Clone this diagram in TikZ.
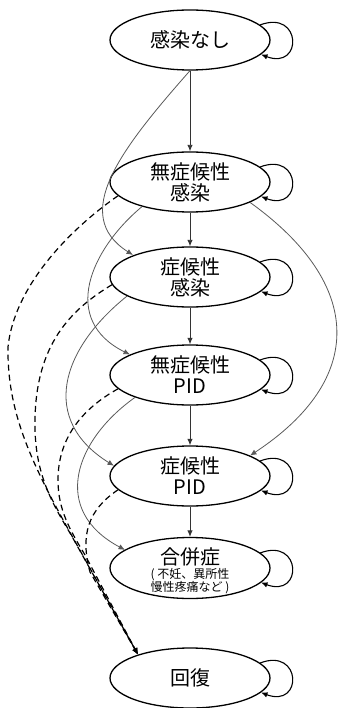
\documentclass[tikz,border=0pt]{standalone}
\usepackage{fontspec}
\setmainfont{Noto Sans CJK JP}
\usetikzlibrary{arrows.meta,calc,shapes.geometric}
\begin{document}
\begin{tikzpicture}[x=1pt,y=-1pt,
  state/.style={ellipse,draw=black,line width=1.3pt,minimum width=160pt,minimum height=60pt,inner sep=0pt,align=center,font=\fontsize{20}{21}\selectfont},
  smalltext/.style={align=center,inner sep=0pt,font=\fontsize{12}{12.5}\selectfont},
  tip/.style={-{Latex[length=6.5pt,width=5.5pt]}},
  vline/.style={tip,draw=black!80,line width=0.9pt},
  cline/.style={tip,draw=black!65,line width=0.8pt},
  dline/.style={tip,draw=black,line width=1.2pt,dash pattern=on 6pt off 4pt},
  lline/.style={tip,draw=black,line width=1.1pt}]
\useasboundingbox (0,0) rectangle (339,708);
\node[state] (n1) at (190,40) {感染なし};
\node[state] (n2) at (190,182) {無症候性\\感染};
\node[state] (n3) at (190,277) {症候性\\感染};
\node[state] (n4) at (190,375) {無症候性\\PID};
\node[state] (n5) at (190,476) {症候性\\PID};
\node[state,minimum height=61pt] (n6) at (190,568) {};
\node[font=\fontsize{20}{21}\selectfont,inner sep=0pt] (n6a) at (190,557) {合併症};
\node[smalltext] (n6b) at (190,581) {( 不妊、異所性\\慢性疼痛など )};
\node[state] (n7) at (190,678) {回復};
% vertical arrows
\draw[vline] (n1.south) -- (n2.north);
\draw[vline] (n2.south) -- (n3.north);
\draw[vline] (n3.south) -- (n4.north);
\draw[vline] (n4.south) -- (n5.north);
\draw[vline] (n5.south) -- (n6.north);
% self loops
\foreach \n in {n1,n2,n3,n4,n5,n6,n7}{
  \draw[lline] ($(\n)+(70,-15)$) .. controls +(42,-16) and +(42,16) .. ($(\n)+(71,14.5)$);
}
% curved solid edges
\draw[cline] (n1.south) .. controls (120,150) and (70,215) .. ($(n3)+(-57,-22)$);
\draw[cline] ($(n2)+(-48,24.6)$) .. controls (90,250) and (60,320) .. ($(n4)+(-60,-20.4)$);
\draw[cline] ($(n3)+(-63,19.1)$) .. controls (60,350) and (40,420) .. ($(n5)+(-76,-10.2)$);
\draw[cline] ($(n4)+(-55,22.4)$) .. controls (75,440) and (50,510) .. ($(n6)+(-65,-18.1)$);
\draw[cline] ($(n2)+(60,20.4)$) .. controls (365,285) and (365,380) .. ($(n5)+(60,-20.4)$);
% dashed edges to recovery
\draw[dline] ($(n2)+(-72,13.8)$) .. controls (80,222) and (15,280) .. (8,347) .. controls (7,410) and (30,460) .. (67,527) -- ($(n7)+(-52,-23.4)$);
\draw[dline] ($(n3)+(-78,7.7)$) .. controls (70,310) and (36,345) .. (35,420) .. controls (34,470) and (50,500) .. (70,533) -- ($(n7)+(-52,-23.4)$);
\draw[dline] ($(n4)+(-72,13.8)$) .. controls (80,410) and (58,440) .. (58,480) .. controls (58,510) and (70,530) .. (85,555) -- ($(n7)+(-52,-23.4)$);
\draw[dline] ($(n5)+(-72,13.8)$) .. controls (88,510) and (80,535) .. (90,572) -- ($(n7)+(-52,-23.4)$);
\end{tikzpicture}
\end{document}
